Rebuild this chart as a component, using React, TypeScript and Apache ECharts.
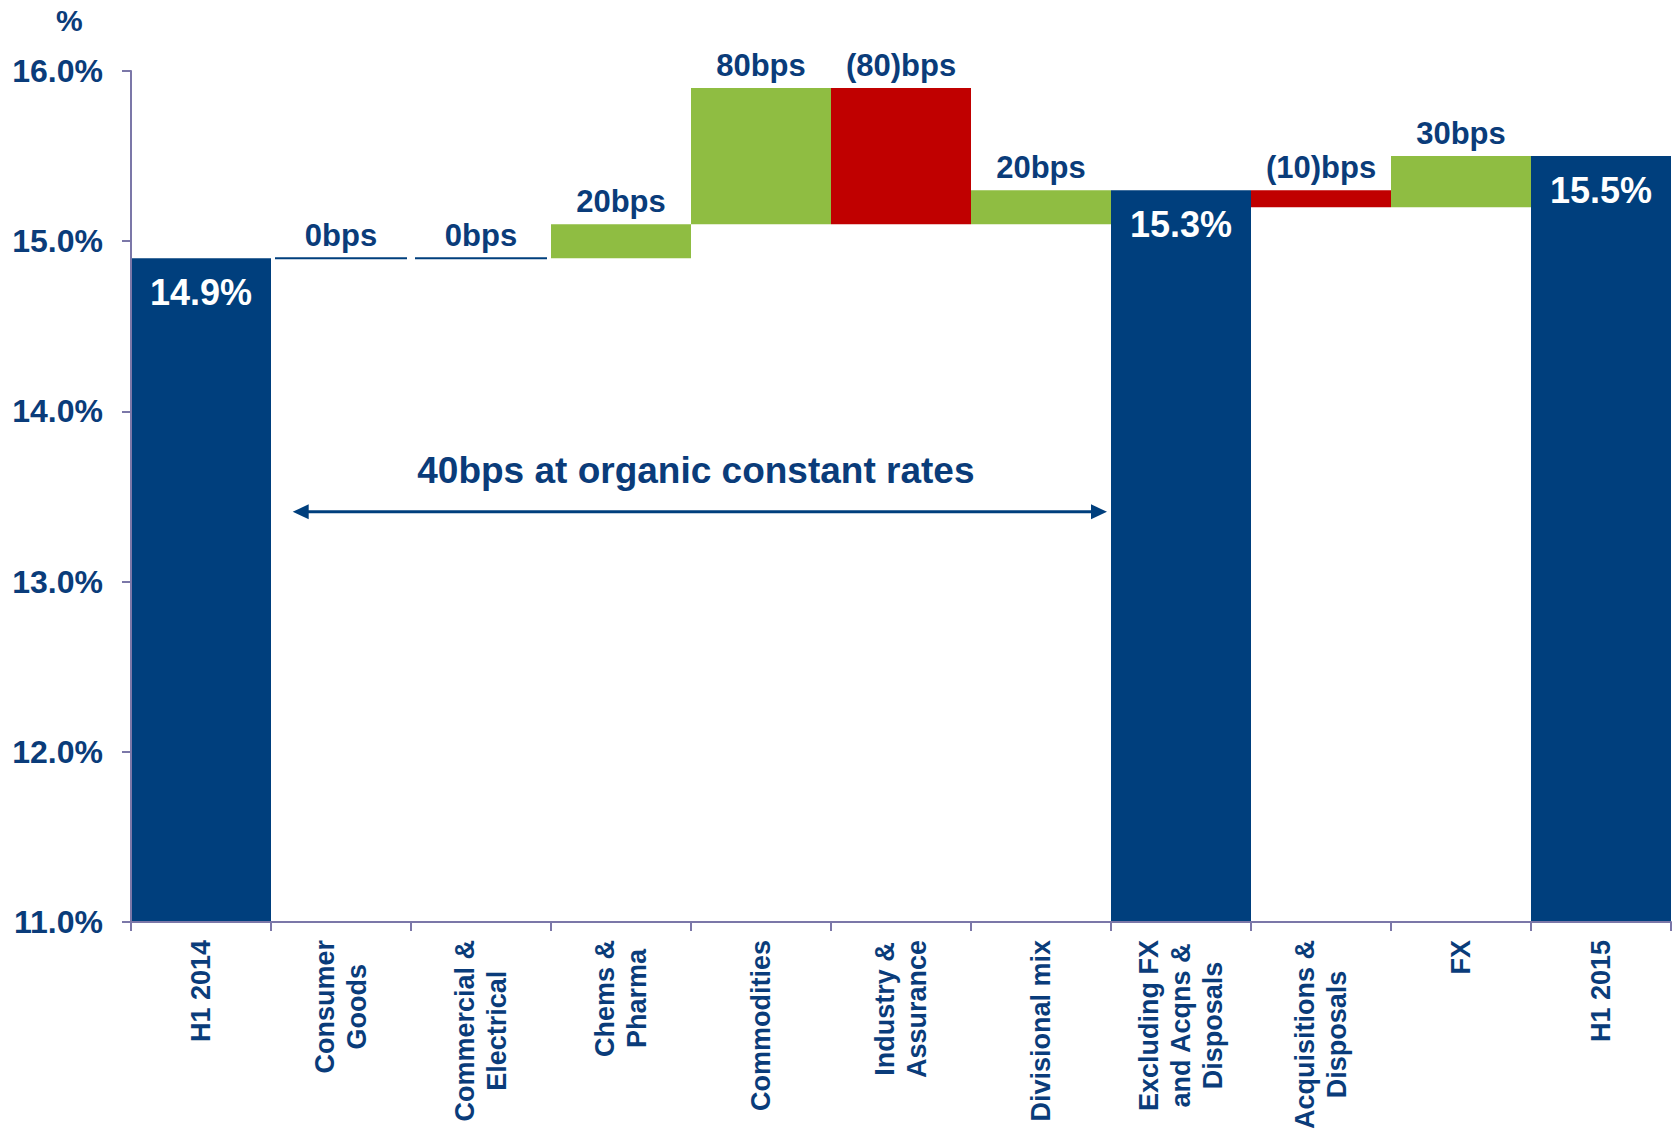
import React, { useEffect, useRef } from 'react';
import * as echarts from 'echarts';

// ---- data ----
const categories = [
  'H1 2014',
  'Consumer\nGoods',
  'Commercial &\nElectrical',
  'Chems &\nPharma',
  'Commodities',
  'Industry &\nAssurance',
  'Divisional mix',
  'Excluding FX\nand Acqns &\nDisposals',
  'Acquisitions &\nDisposals',
  'FX',
  'H1 2015',
];
const totalValues: (number | null)[] = [14.9, null, null, null, null, null, null, 15.3, null, null, 15.5];
const deltaBps: (number | null)[] = [null, 0, 0, 20, 80, -80, 20, null, -10, 30, null];
const yTicks = [11, 12, 13, 14, 15, 16];
const bracketText = '40bps at organic constant rates';
const bracketFrom = 1; // category index
const bracketTo = 7; // category index
const bracketArrowValue = 13.41;
const bracketTextValue = 13.65;

// ---- styles ----
const NAVY = '#003F7D';
const TEXT = '#0A3C7A';
const GREEN = '#8FBD42';
const RED = '#C00000';
const AXIS = '#7B77A8';
const ARIAL = '"Liberation Sans", Arial, sans-serif';

const Y_MIN = yTicks[0];
const Y_MAX = yTicks[yTicks.length - 1];

type Kind = 'total' | 'up' | 'down' | 'zero';
const kinds: Kind[] = [];
const labels: string[] = [];
const wfData: number[][] = [];
{
  let running = 0;
  categories.forEach((_, i) => {
    const t = totalValues[i];
    if (t != null) {
      running = t;
      kinds.push('total');
      labels.push(t.toFixed(1) + '%');
      wfData.push([i, Y_MIN, t]);
    } else {
      const d = deltaBps[i] as number;
      const start = running;
      const end = +(running + d / 100).toFixed(4);
      running = end;
      kinds.push(d > 0 ? 'up' : d < 0 ? 'down' : 'zero');
      labels.push(d < 0 ? `(${Math.abs(d)})bps` : `${d}bps`);
      wfData.push([i, Math.min(start, end), Math.max(start, end)]);
    }
  });
}

export default function App() {
  const ref = useRef<HTMLDivElement>(null);
  useEffect(() => {
    if (!ref.current) return;
    const chart = echarts.init(ref.current, undefined, { renderer: 'svg' });
    const option: any = {
      animation: false,
      backgroundColor: '#ffffff',
      grid: { left: 131, right: 1, top: 71, bottom: 213, containLabel: false, outerBoundsMode: 'none' },
      xAxis: {
        type: 'category',
        data: categories,
        z: 10,
        boundaryGap: true,
        axisLine: { show: true, lineStyle: { color: AXIS, width: 2 } },
        axisTick: { show: true, length: 9, lineStyle: { color: AXIS, width: 2 } },
        axisLabel: {
          interval: 0,
          rotate: 90,
          margin: 18,
          formatter: (v: string) => v.split('\n').map((s) => `{c|${s}}`).join('\n'),
          rich: {
            c: {
              align: 'center',
              fontSize: 27,
              fontWeight: 'bold',
              fontFamily: ARIAL,
              color: TEXT,
              lineHeight: 32,
            },
          },
        },
      },
      yAxis: {
        type: 'value',
        min: Y_MIN,
        max: Y_MAX,
        interval: 1,
        z: 10,
        axisLine: { show: true, lineStyle: { color: AXIS, width: 2 } },
        axisTick: { show: true, length: 9, lineStyle: { color: AXIS, width: 2 } },
        splitLine: { show: false },
        axisLabel: {
          margin: 28,
          formatter: (v: number) => v.toFixed(1) + '%',
          fontSize: 32,
          fontWeight: 'bold',
          fontFamily: ARIAL,
          color: TEXT,
        },
      },
      graphic: [
        {
          type: 'text',
          left: 56,
          top: 5,
          style: { text: '%', fontSize: 30, fontWeight: 'bold', fontFamily: ARIAL, fill: TEXT },
        },
      ],
      series: [
        {
          type: 'custom',
          clip: false,
          data: wfData,
          encode: { x: 0, y: [1, 2] },
          renderItem: (params: any, api: any) => {
            const idx = api.value(0);
            const lo = api.value(1);
            const hi = api.value(2);
            const kind = kinds[params.dataIndex];
            const pTop = api.coord([idx, hi]);
            const pBot = api.coord([idx, lo]);
            const w = api.size([1, 0])[0];
            const x = pTop[0] - w / 2;
            const cx = pTop[0];
            const children: any[] = [];
            if (kind === 'zero') {
              children.push({
                type: 'line',
                shape: { x1: x + 4, y1: pTop[1], x2: x + w - 4, y2: pTop[1] },
                style: { stroke: NAVY, lineWidth: 2 },
              });
            } else {
              children.push({
                type: 'rect',
                shape: { x, y: pTop[1], width: w, height: pBot[1] - pTop[1] },
                style: { fill: kind === 'total' ? NAVY : kind === 'up' ? GREEN : RED },
              });
            }
            if (kind === 'total') {
              children.push({
                type: 'text',
                x: cx,
                y: pTop[1] + 34,
                style: {
                  text: labels[params.dataIndex],
                  fill: '#ffffff',
                  fontSize: 36,
                  fontWeight: 'bold',
                  fontFamily: ARIAL,
                  align: 'center',
                  verticalAlign: 'middle',
                },
              });
            } else {
              children.push({
                type: 'text',
                x: cx,
                y: pTop[1] - 23,
                style: {
                  text: labels[params.dataIndex],
                  fill: TEXT,
                  fontSize: 31,
                  fontWeight: 'bold',
                  fontFamily: ARIAL,
                  align: 'center',
                  verticalAlign: 'middle',
                },
              });
            }
            return { type: 'group', children };
          },
        },
        {
          type: 'custom',
          clip: false,
          data: [[bracketFrom, bracketTo, bracketArrowValue, bracketTextValue]],
          encode: { x: [0, 1], y: [2, 3] },
          renderItem: (params: any, api: any) => {
            const a = api.coord([api.value(0), api.value(2)]);
            const b = api.coord([api.value(1), api.value(2)]);
            const t = api.coord([api.value(0), api.value(3)]);
            const w = api.size([1, 0])[0];
            const xa = a[0] - w / 2 + w * 0.155;
            const xb = b[0] - w / 2 - 4;
            const y = a[1];
            const head = 16;
            const half = 7.5;
            return {
              type: 'group',
              children: [
                {
                  type: 'line',
                  shape: { x1: xa + 8, y1: y, x2: xb - 8, y2: y },
                  style: { stroke: NAVY, lineWidth: 3 },
                },
                {
                  type: 'polygon',
                  shape: { points: [[xa, y], [xa + head, y - half], [xa + head, y + half]] },
                  style: { fill: NAVY },
                },
                {
                  type: 'polygon',
                  shape: { points: [[xb, y], [xb - head, y - half], [xb - head, y + half]] },
                  style: { fill: NAVY },
                },
                {
                  type: 'text',
                  x: (xa + xb) / 2 - 4,
                  y: t[1],
                  style: {
                    text: bracketText,
                    fill: TEXT,
                    fontSize: 37,
                    fontWeight: 'bold',
                    fontFamily: ARIAL,
                    align: 'center',
                    verticalAlign: 'middle',
                  },
                },
              ],
            };
          },
        },
      ],
    };
    chart.setOption(option);
    return () => chart.dispose();
  }, []);
  return (
    <div
      ref={ref}
      style={{ position: 'absolute', left: 0, top: 0, width: 1672, height: 1135, background: '#fff' }}
    />
  );
}
